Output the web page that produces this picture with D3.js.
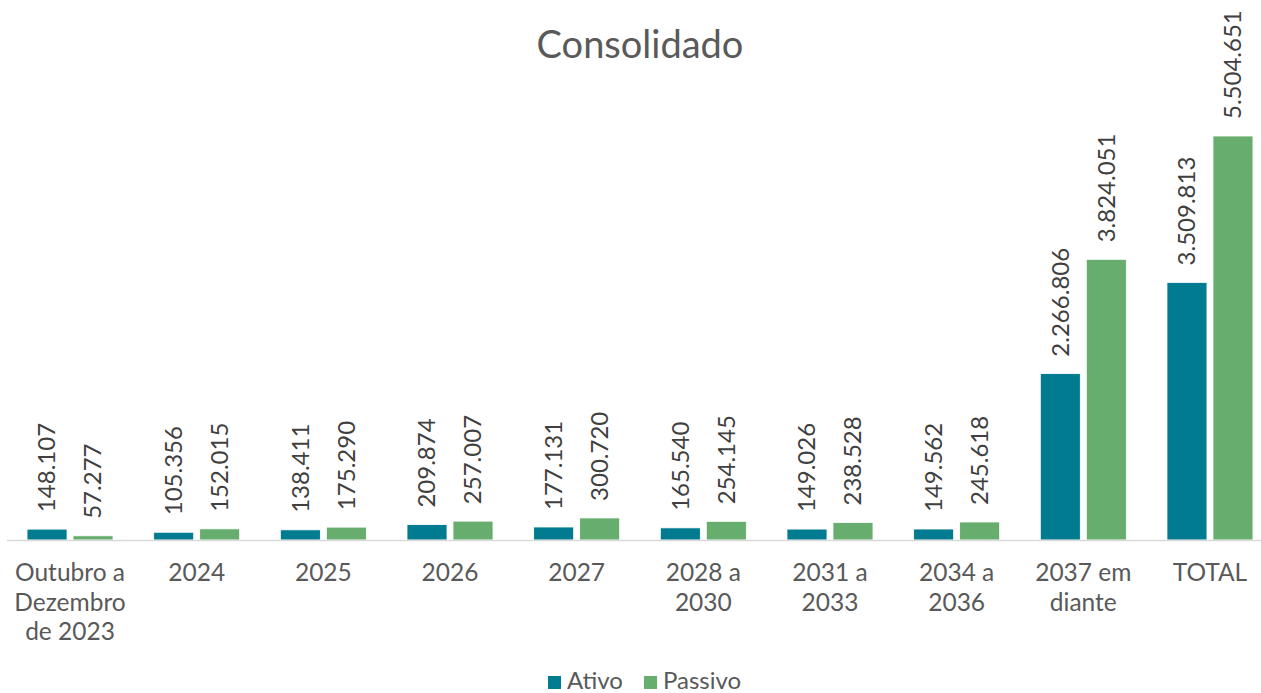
<!DOCTYPE html>
<html lang="pt">
<head>
<meta charset="UTF-8">
<title>Consolidado</title>
<style>
  * { margin: 0; padding: 0; }
  body { background: #fff; font-family: Lato, 'Open Sans', sans-serif; overflow: hidden; }
  svg { display: block; }
</style>
</head>
<body>
<svg width="1261" height="693"></svg>
<script src="https://d3js.org/d3.v7.min.js"></script>
<script>
const categories = [
  ["Outubro a", "Dezembro", "de 2023"], ["2024"], ["2025"], ["2026"], ["2027"],
  ["2028 a", "2030"], ["2031 a", "2033"], ["2034 a", "2036"], ["2037 em", "diante"], ["TOTAL"]
];
const ativo = [148107, 105356, 138411, 209874, 177131, 165540, 149026, 149562, 2266806, 3509813];
const passivo = [57277, 152015, 175290, 257007, 300720, 254145, 238528, 245618, 3824051, 5504651];
const seriesNames = ["Ativo", "Passivo"];
const colors = { Ativo: "#007B8F", Passivo: "#66AD6E" };

const fmt = v => d3.format(",")(v).replace(/,/g, ".");

const svg = d3.select("svg");
const W = 1261;

const x = d3.scaleBand().domain(d3.range(categories.length)).range([6.7, 1273.3]);
const xs = d3.scaleBand().domain(seriesNames).range([0, 86]).paddingInner(0.1304);
const y = d3.scaleLinear().domain([0, 5504651]).range([540, 136]);

svg.append("text")
  .attr("x", 640).attr("y", 58)
  .attr("text-anchor", "middle")
  .attr("font-size", 38).attr("fill", "#595959")
  .text("Consolidado");

const rows = categories.map((c, i) => ({ i, Ativo: ativo[i], Passivo: passivo[i] }));

const groups = svg.append("g").selectAll("g")
  .data(rows).enter().append("g")
  .attr("transform", d => `translate(${x(d.i) + (x.bandwidth() - 86) / 2},0)`);

groups.selectAll("rect")
  .data(d => seriesNames.map(s => ({ s, v: d[s] })))
  .enter().append("rect")
  .attr("x", d => xs(d.s))
  .attr("width", xs.bandwidth())
  .attr("y", d => y(d.v))
  .attr("height", d => y(0) - y(d.v))
  .attr("fill", d => colors[d.s])
  .attr("stroke", "#ffffff").attr("stroke-width", 0.8);

groups.selectAll("text.val")
  .data(d => seriesNames.map(s => ({ s, v: d[s] })))
  .enter().append("text")
  .attr("class", "val")
  .attr("transform", d => `translate(${xs(d.s) + xs.bandwidth() / 2},${y(d.v) - 17}) rotate(-90)`)
  .attr("dy", "0.35em")
  .attr("font-size", 24).attr("fill", "#404040")
  .text(d => fmt(d.v));

// axis line
svg.append("line")
  .attr("x1", 7).attr("x2", W)
  .attr("y1", y(0) + 0.5).attr("y2", y(0) + 0.5)
  .attr("stroke", "#d9d9d9").attr("stroke-width", 1.5);

// category labels
const labels = svg.append("g").selectAll("text")
  .data(categories).enter().append("text")
  .attr("x", (d, i) => x(i) + x.bandwidth() / 2)
  .attr("y", 581)
  .attr("text-anchor", "middle")
  .attr("font-size", 24.5).attr("fill", "#595959");
labels.selectAll("tspan")
  .data(d => d).enter().append("tspan")
  .attr("x", function() { return d3.select(this.parentNode).attr("x"); })
  .attr("dy", (d, j) => j === 0 ? 0 : 29.5)
  .text(d => d);

// legend
const legend = svg.append("g").attr("transform", "translate(548,0)");
const legendX = [0, 96];
seriesNames.forEach((s, i) => {
  legend.append("rect")
    .attr("x", legendX[i]).attr("y", 676)
    .attr("width", 13).attr("height", 13)
    .attr("fill", colors[s]);
  legend.append("text")
    .attr("x", legendX[i] + 19).attr("y", 689)
    .attr("font-size", 24).attr("fill", "#595959")
    .text(s);
});
</script>
</body>
</html>
